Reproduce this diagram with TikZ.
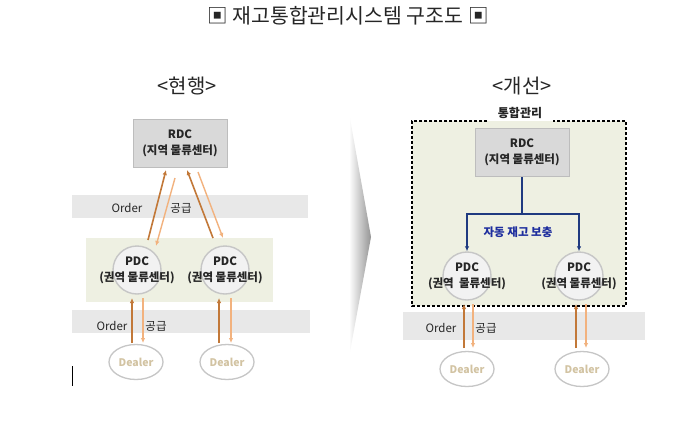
\documentclass[tikz,border=0pt]{standalone}
\usepackage{fontspec}
\setmainfont{Noto Sans CJK KR}
\usetikzlibrary{arrows.meta,shapes.geometric,calc}
\definecolor{bandgray}{HTML}{E8E8E8}
\definecolor{areagreen}{HTML}{EEF0E2}
\definecolor{boxgray}{HTML}{D9D9D9}
\definecolor{boxedge}{HTML}{BDBDBD}
\definecolor{circfill}{HTML}{F2F2F2}
\definecolor{circedge}{HTML}{C6C6C6}
\definecolor{orgdark}{HTML}{C27838}
\definecolor{orglight}{HTML}{F2B27E}
\definecolor{dealertxt}{HTML}{D2C3A2}
\definecolor{navy}{HTML}{1F3A80}
\definecolor{bluetxt}{HTML}{1E2E9E}
\tikzset{
  rdcbox/.style={draw=boxedge, line width=1pt, fill=boxgray, minimum width=94pt, minimum height=48pt,
    align=center, font=\fontsize{11.5}{15.5}\selectfont\bfseries, text=black!85},
  pdccirc/.style={circle, draw=circedge, line width=1.4pt, fill=circfill, minimum size=48pt, inner sep=0pt},
  pdctext/.style={align=center, font=\fontsize{11.5}{16}\selectfont\bfseries, text=black!85, inner sep=0pt},
  dealer/.style={ellipse, draw=circedge, line width=1.3pt, fill=white, minimum width=54pt, minimum height=35pt,
    inner sep=0pt, font=\fontsize{10.5}{12}\selectfont\bfseries, text=dealertxt},
  bandtext/.style={font=\fontsize{11.5}{13}\selectfont, text=black!85, inner sep=0pt},
  darkarr/.style={draw=orgdark, line width=1.6pt, -{Latex[length=5pt,width=4.5pt]}},
  lightarr/.style={draw=orglight, line width=1.4pt, -{Latex[length=5pt,width=4.5pt]}},
  bluearr/.style={draw=navy, line width=1.4pt, -{Latex[length=5pt,width=4.5pt]}},
  headtext/.style={font=\fontsize{20}{22}\selectfont, text=black!85},
}
\begin{document}
\begin{tikzpicture}[x=1pt,y=-1pt]
\useasboundingbox (0,0) rectangle (700,434);
\fill[white] (0,0) rectangle (700,434);

% title
\node[font=\fontsize{20.5}{22}\selectfont, text=black!85] (title) at (348,16) {▣ 재고통합관리시스템 구조도 ▣};

% ---------------- left: current ----------------
\node[headtext] (curhead) at (187,86) {<현행>};
\fill[bandgray] (72,195) rectangle (308,218);
\fill[areagreen] (86,238) rectangle (273,302);
\fill[bandgray] (72,310) rectangle (310,333);

\node[rdcbox] (rdcL) at (180,143.5) {RDC\\(지역 물류센터)};
\node[pdccirc] (pdcL1) at (137,270) {};
\node[pdccirc] (pdcL2) at (225,270) {};
\node[pdctext] (pdcL1t) at (pdcL1) {PDC\\(권역 물류센터)};
\node[pdctext] (pdcL2t) at (pdcL2) {PDC\\(권역 물류센터)};

\node[bandtext] (ordL1) at (127,208) {Order};
\node[bandtext] (supL1) at (181,208) {공급};
\node[bandtext] (ordL2) at (112,326) {Order};
\node[bandtext] (supL2) at (156,326) {공급};

\node[dealer] (dlL1) at (136,362) {Dealer};
\node[dealer] (dlL2) at (227,362) {Dealer};

% upper arrows
\coordinate (a1s) at (148,240); \coordinate (a1e) at (166,170);
\coordinate (a2s) at (175,178); \coordinate (a2e) at (156,246);
\coordinate (a3s) at (213,238); \coordinate (a3e) at (187,170);
\coordinate (a4s) at (198,172); \coordinate (a4e) at (223,238);
\draw[darkarr] (a1s) -- (a1e);
\draw[lightarr] (a2s) -- (a2e);
\draw[darkarr] (a3s) -- (a3e);
\draw[lightarr] (a4s) -- (a4e);

% lower arrows
\coordinate (b1s) at (132,343); \coordinate (b1e) at (132,298);
\coordinate (b2s) at (143,298); \coordinate (b2e) at (143,343);
\coordinate (b3s) at (219,343); \coordinate (b3e) at (219,298);
\coordinate (b4s) at (231,298); \coordinate (b4e) at (231,343);
\draw[darkarr] (b1s) -- (b1e);
\draw[lightarr] (b2s) -- (b2e);
\draw[darkarr] (b3s) -- (b3e);
\draw[lightarr] (b4s) -- (b4e);

% cursor mark
\coordinate (cur1) at (72,366); \coordinate (cur2) at (72,386);
\draw[line width=1pt, black] (cur1) -- (cur2);

% ---------------- middle chevron ----------------
\shade[left color=white, right color=black!42] (349,113) -- (371,237) -- (349,357) -- cycle;

% ---------------- right: improved ----------------
\node[headtext] (newhead) at (522,86) {<개선>};
\fill[areagreen] (412,121) rectangle (626,306);
\fill[bandgray] (403,312) rectangle (645,340);
\draw[black, line width=2.6pt, dash pattern=on 2.6pt off 2.4pt]
  (487,121) -- (412,121) -- (412,306) -- (626,306) -- (626,121) -- (553,121);
\node[font=\fontsize{12}{14}\selectfont\bfseries, text=black!85] (intg) at (520,113) {통합관리};

\node[rdcbox] (rdcR) at (522,152.5) {RDC\\(지역 물류센터)};
\node[pdccirc] (pdcR1) at (467,276) {};
\node[pdccirc] (pdcR2) at (579,276) {};
\node[pdctext] (pdcR1t) at (pdcR1) {PDC\\(권역~~물류센터)};
\node[pdctext] (pdcR2t) at (pdcR2) {PDC\\(권역 물류센터)};

\coordinate (bj) at (522,214);
\draw[draw=navy, line width=1.4pt] (rdcR.south) -- (bj);
\draw[bluearr] (bj) -| (pdcR1.north);
\draw[bluearr] (bj) -| (pdcR2.north);
\node[font=\fontsize{11.5}{13}\selectfont\bfseries, text=bluetxt] (auto) at (518,232) {자동 재고 보충};

\node[bandtext] (ordR) at (441,328) {Order};
\node[bandtext] (supR) at (486,328) {공급};

\node[dealer] (dlR1) at (467,369) {Dealer};
\node[dealer] (dlR2) at (582,369) {Dealer};

\coordinate (c1s) at (464,348); \coordinate (c1e) at (464,304);
\coordinate (c2s) at (473,304); \coordinate (c2e) at (473,348);
\coordinate (c3s) at (576,348); \coordinate (c3e) at (576,304);
\coordinate (c4s) at (586,304); \coordinate (c4e) at (586,348);
\draw[darkarr] (c1s) -- (c1e);
\draw[lightarr] (c2s) -- (c2e);
\draw[darkarr] (c3s) -- (c3e);
\draw[lightarr] (c4s) -- (c4e);
\end{tikzpicture}
\end{document}
